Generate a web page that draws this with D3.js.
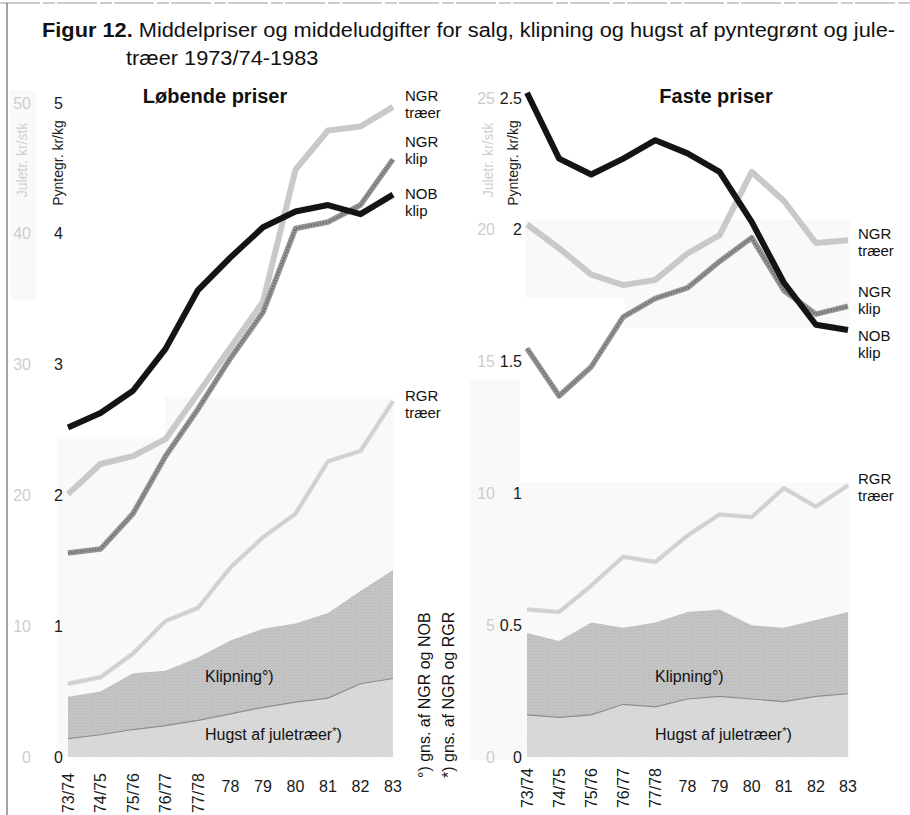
<!DOCTYPE html>
<html>
<head>
<meta charset="utf-8">
<script src="https://cdn.jsdelivr.net/npm/d3@7"></script>
<style>
	body { margin: 0; background: #fff; }
	svg { display: block; font-family: "Liberation Sans", Arial, Helvetica, sans-serif; }
</style>
</head>
<body>
<div id="graph"></div>
<script>

// x categories (sæsoner / år)
var years = ["73/74", "74/75", "75/76", "76/77", "77/78", "78", "79", "80", "81", "82", "83"];

// Løbende priser
// pyntegrønt in kr/kg, juletræer in kr/stk
var nobKlipL   = [2.52, 2.63, 2.80, 3.12, 3.57, 3.82, 4.05, 4.17, 4.22, 4.15, 4.30];
var ngrKlipL   = [1.56, 1.59, 1.86, 2.30, 2.66, 3.05, 3.40, 4.04, 4.09, 4.22, 4.57];
var ngrTraerL  = [20.1, 22.4, 23.0, 24.3, 27.8, 31.3, 34.8, 44.9, 47.9, 48.2, 49.7];
var rgrTraerL  = [5.6, 6.1, 7.9, 10.4, 11.4, 14.5, 16.8, 18.6, 22.6, 23.4, 27.2];
var klipningL  = [0.46, 0.50, 0.64, 0.66, 0.76, 0.89, 0.98, 1.02, 1.10, 1.27, 1.43];
var hugstL     = [1.4, 1.7, 2.1, 2.4, 2.8, 3.3, 3.8, 4.2, 4.5, 5.6, 6.0];

// Faste priser
var nobKlipR   = [2.52, 2.27, 2.21, 2.27, 2.34, 2.29, 2.22, 2.03, 1.80, 1.64, 1.62];
var ngrKlipR   = [1.55, 1.37, 1.48, 1.67, 1.74, 1.78, 1.88, 1.97, 1.77, 1.68, 1.71];
var ngrTraerR  = [20.2, 19.3, 18.3, 17.9, 18.1, 19.1, 19.8, 22.2, 21.1, 19.5, 19.6];
var rgrTraerR  = [5.6, 5.5, 6.5, 7.6, 7.4, 8.4, 9.2, 9.1, 10.2, 9.5, 10.3];
var klipningR  = [0.47, 0.44, 0.51, 0.49, 0.51, 0.55, 0.56, 0.50, 0.49, 0.52, 0.55];
var hugstR     = [1.6, 1.5, 1.6, 2.0, 1.9, 2.2, 2.3, 2.2, 2.1, 2.3, 2.4];

// axis ticks
var ticksPL = [0, 1, 2, 3, 4, 5];
var ticksJL = [0, 10, 20, 30, 40, 50];
var ticksPR = [0, 0.5, 1, 1.5, 2, 2.5];
var ticksJR = [0, 5, 10, 15, 20, 25];


var width = 910, height = 815;

var svg = d3.select("#graph").append("svg")
	.attr("width", width)
	.attr("height", height);

// textures for the shaded areas
var defs = svg.append("defs");
function stipple(id, base, dot) {
	var p = defs.append("pattern")
		.attr("id", id)
		.attr("width", 3)
		.attr("height", 3)
		.attr("patternUnits", "userSpaceOnUse");
	p.append("rect").attr("width", 3).attr("height", 3).attr("fill", base);
	p.append("rect").attr("x", 0).attr("y", 0).attr("width", 1).attr("height", 1).attr("fill", dot);
	p.append("rect").attr("x", 1.5).attr("y", 1.5).attr("width", 1).attr("height", 1).attr("fill", dot);
}
stipple("klipFill", "#c8c8c8", "#adadad");
stipple("hugstFill", "#dcdcdc", "#cbcbcb");

// faint screen tints from the print
var tints = [
	[10, 90, 26, 210], [57, 437, 336, 320], [165, 397, 228, 40],
	[525, 220, 325, 78], [625, 298, 225, 30], [470, 380, 50, 380], [520, 482, 330, 275]
];
svg.append("g").selectAll("rect")
	.data(tints)
	.enter().append("rect")
	.attr("x", function(d) { return d[0]; })
	.attr("y", function(d) { return d[1]; })
	.attr("width", function(d) { return d[2]; })
	.attr("height", function(d) { return d[3]; })
	.attr("fill", "#f9f9f9");

// frame lines
svg.append("line")
	.attr("x1", 0).attr("x2", width).attr("y1", 3).attr("y2", 3)
	.attr("stroke", "#999").attr("stroke-width", 1.2)
	.attr("stroke-dasharray", "40,3,12,2");
svg.append("line")
	.attr("x1", 7).attr("x2", 7).attr("y1", 3).attr("y2", height)
	.attr("stroke", "#666").attr("stroke-width", 1.2);

// title
var t1 = svg.append("text")
	.attr("x", 42).attr("y", 37)
	.attr("font-size", 20)
	.attr("fill", "#111");
t1.append("tspan").attr("font-weight", "bold").text("Figur 12.");
t1.append("tspan").text(" Middelpriser og middeludgifter for salg, klipning og hugst af pyntegrønt og jule-");
var k = 853 / t1.node().getComputedTextLength();
t1.attr("textLength", 853).attr("lengthAdjust", "spacingAndGlyphs");

var t2 = svg.append("text")
	.attr("x", 126).attr("y", 65)
	.attr("font-size", 20)
	.attr("fill", "#111")
	.text("træer 1973/74-1983");
t2.attr("textLength", t2.node().getComputedTextLength() * k).attr("lengthAdjust", "spacingAndGlyphs");


function drawPanel(cfg) {

	var x = d3.scalePoint().domain(years).range(cfg.xRange);
	var yP = d3.scaleLinear().domain([0, cfg.pMax]).range([757, cfg.yTop]);
	var yJ = d3.scaleLinear().domain([0, cfg.pMax * 10]).range([757, cfg.yTop]);

	var g = svg.append("g");

	var rows = years.map(function(yr, i) {
		return {
			yr: yr,
			nob: cfg.nob[i], ngrK: cfg.ngrK[i], ngrT: cfg.ngrT[i],
			rgr: cfg.rgr[i], klip: cfg.klip[i], hugst: cfg.hugst[i]
		};
	});

	// areas
	var klipArea = d3.area()
		.x(function(d) { return x(d.yr); })
		.y0(yP(0))
		.y1(function(d) { return yP(d.klip); });
	var hugstArea = d3.area()
		.x(function(d) { return x(d.yr); })
		.y0(yJ(0))
		.y1(function(d) { return yJ(d.hugst); });

	g.append("path").datum(rows).attr("d", klipArea).attr("fill", "url(#klipFill)");
	g.append("path").datum(rows).attr("d", hugstArea).attr("fill", "url(#hugstFill)");
	g.append("path").datum(rows)
		.attr("d", d3.line().x(function(d) { return x(d.yr); }).y(function(d) { return yJ(d.hugst); }))
		.attr("fill", "none").attr("stroke", "#8d8d8d").attr("stroke-width", 1.2);

	function line(key, scale) {
		return d3.line()
			.x(function(d) { return x(d.yr); })
			.y(function(d) { return scale(d[key]); });
	}

	// RGR træer
	g.append("path").datum(rows).attr("d", line("rgr", yJ))
		.attr("fill", "none").attr("stroke", "#d6d6d6").attr("stroke-width", 4.5)
		.attr("stroke-linejoin", "round");
	g.append("path").datum(rows).attr("d", line("rgr", yJ))
		.attr("fill", "none").attr("stroke", "#c4c4c4").attr("stroke-width", 1.5)
		.attr("stroke-dasharray", "1.5,2");

	// NGR træer
	g.append("path").datum(rows).attr("d", line("ngrT", yJ))
		.attr("fill", "none").attr("stroke", "#c9c9c9").attr("stroke-width", 6)
		.attr("stroke-linejoin", "round");

	// NGR klip (dotted dark gray)
	g.append("path").datum(rows).attr("d", line("ngrK", yP))
		.attr("fill", "none").attr("stroke", "#969696").attr("stroke-width", 5.5)
		.attr("stroke-linejoin", "round");
	g.append("path").datum(rows).attr("d", line("ngrK", yP))
		.attr("fill", "none").attr("stroke", "#6f6f6f").attr("stroke-width", 2.5)
		.attr("stroke-dasharray", "1.5,1.5");

	// NOB klip
	g.append("path").datum(rows).attr("d", line("nob", yP))
		.attr("fill", "none").attr("stroke", "#141414").attr("stroke-width", 6)
		.attr("stroke-linejoin", "round");

	// y tick labels
	g.selectAll("text.tp")
		.data(cfg.ticksP)
		.enter().append("text")
		.attr("class", "tp")
		.attr("x", cfg.tickPx)
		.attr("y", function(d) { return yP(d); })
		.attr("dy", "0.35em")
		.attr("text-anchor", "end")
		.attr("font-size", 16)
		.attr("fill", "#1a1a1a")
		.text(function(d) { return d; });

	g.selectAll("text.tj")
		.data(cfg.ticksJ)
		.enter().append("text")
		.attr("class", "tj")
		.attr("x", cfg.tickJx)
		.attr("y", function(d) { return yJ(d); })
		.attr("dy", "0.35em")
		.attr("text-anchor", "end")
		.attr("font-size", 16)
		.attr("fill", "#cdcdcd")
		.text(function(d) { return d; });

	// axis titles
	g.append("text")
		.attr("transform", "translate(" + cfg.pLabelX + ",163) rotate(-90)")
		.attr("text-anchor", "middle")
		.attr("dy", "0.35em")
		.attr("font-size", 14)
		.attr("fill", "#1a1a1a")
		.text("Pyntegr. kr/kg");
	g.append("text")
		.attr("transform", "translate(" + cfg.jLabelX + ",160) rotate(-90)")
		.attr("text-anchor", "middle")
		.attr("dy", "0.35em")
		.attr("font-size", 14)
		.attr("fill", "#d0d0d0")
		.text("Juletr. kr/stk");

	// x labels: seasons rotated, years flat
	g.selectAll("text.xl")
		.data(years)
		.enter().append("text")
		.attr("class", "xl")
		.attr("font-size", 16)
		.attr("fill", "#1a1a1a")
		.each(function(d) {
			var el = d3.select(this);
			if (d.indexOf("/") > 0) {
				el.attr("transform", "translate(" + x(d) + "," + cfg.rotTop + ") rotate(-90)")
					.attr("text-anchor", "end")
					.attr("dy", "0.35em");
			} else {
				el.attr("x", x(d)).attr("y", 792).attr("text-anchor", "middle");
			}
		})
		.text(function(d) { return d; });

	// panel title
	g.append("text")
		.attr("x", cfg.titleX).attr("y", 103)
		.attr("text-anchor", "middle")
		.attr("font-size", 20)
		.attr("font-weight", "bold")
		.attr("fill", "#111")
		.text(cfg.title);

	// series labels, two lines each
	cfg.labels.forEach(function(d) {
		g.append("text")
			.attr("x", cfg.labelX).attr("y", d[2])
			.attr("font-size", 15).attr("fill", "#111")
			.text(d[0]);
		g.append("text")
			.attr("x", cfg.labelX).attr("y", d[2] + 17)
			.attr("font-size", 15).attr("fill", "#111")
			.text(d[1]);
	});

	// area labels
	g.append("text")
		.attr("x", cfg.areaLabelX).attr("y", 682)
		.attr("font-size", 16).attr("fill", "#111")
		.text("Klipning°)");
	var hl = g.append("text")
		.attr("x", cfg.areaLabelX).attr("y", 740)
		.attr("font-size", 16).attr("fill", "#111");
	hl.append("tspan").text("Hugst af juletræer");
	hl.append("tspan").attr("font-size", 11).attr("dy", -5).text("*");
	hl.append("tspan").attr("dy", 5).text(")");
}

drawPanel({
	xRange: [68, 393], pMax: 5, yTop: 103,
	nob: nobKlipL, ngrK: ngrKlipL, ngrT: ngrTraerL, rgr: rgrTraerL, klip: klipningL, hugst: hugstL,
	ticksP: ticksPL, ticksJ: ticksJL,
	tickPx: 63, tickJx: 31, pLabelX: 58, jLabelX: 22,
	rotTop: 773, titleX: 215, title: "Løbende priser",
	labelX: 405, areaLabelX: 205,
	labels: [["NGR", "træer", 101], ["NGR", "klip", 147], ["NOB", "klip", 199], ["RGR", "træer", 401]]
});

drawPanel({
	xRange: [527, 848], pMax: 2.5, yTop: 98,
	nob: nobKlipR, ngrK: ngrKlipR, ngrT: ngrTraerR, rgr: rgrTraerR, klip: klipningR, hugst: hugstR,
	ticksP: ticksPR, ticksJ: ticksJR,
	tickPx: 522, tickJx: 495, pLabelX: 513, jLabelX: 488,
	rotTop: 768, titleX: 716, title: "Faste priser",
	labelX: 858, areaLabelX: 655,
	labels: [["NGR", "træer", 239], ["NGR", "klip", 297], ["NOB", "klip", 341], ["RGR", "træer", 484]]
});

// footnotes
svg.append("text")
	.attr("transform", "translate(424,778) rotate(-90)")
	.attr("dy", "0.35em")
	.attr("font-size", 16)
	.attr("fill", "#111")
	.text("°) gns. af NGR og NOB");
svg.append("text")
	.attr("transform", "translate(448,778) rotate(-90)")
	.attr("dy", "0.35em")
	.attr("font-size", 16)
	.attr("fill", "#111")
	.text("*) gns. af NGR og RGR");

</script>
</body>
</html>
